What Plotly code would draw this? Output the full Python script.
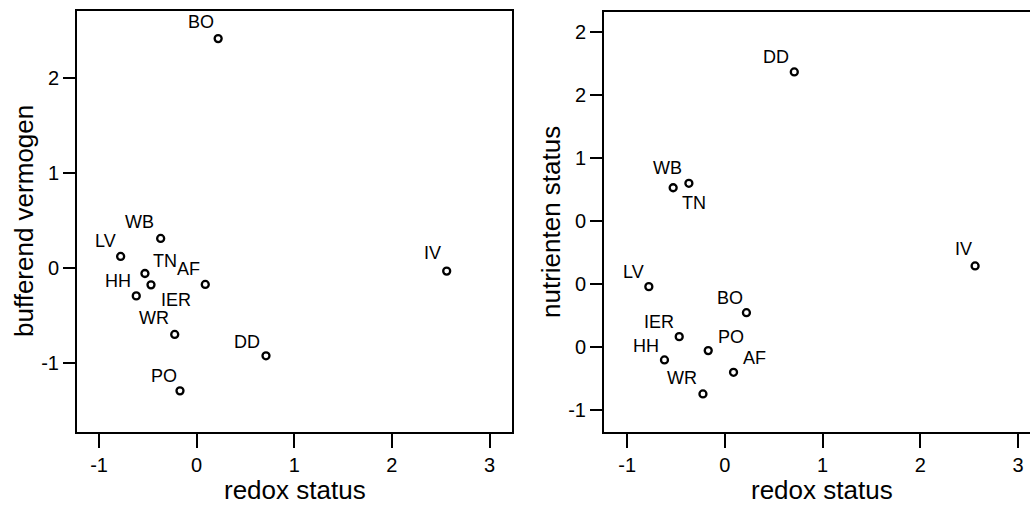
import plotly.graph_objects as go

# ---- data ----
sites = ["BO", "WB", "LV", "TN", "IER", "AF", "HH", "WR", "DD", "PO", "IV"]
redox_status = [0.22, -0.369, -0.779, -0.530, -0.468, 0.088, -0.619, -0.225, 0.710, -0.171, 2.561]
bufferend_vermogen = [2.41, 0.312, 0.123, -0.056, -0.175, -0.171, -0.291, -0.696, -0.920, -1.288, -0.031]
nutrienten_status = [-0.228, 0.799, -0.021, 0.764, -0.418, -0.701, -0.603, -0.873, 1.683, -0.529, 0.143]

x_ticks = [-1, 0, 1, 2, 3]
x_ticklabels = ["-1", "0", "1", "2", "3"]
y1_ticks = [-1, 0, 1, 2]
y1_ticklabels = ["-1", "0", "1", "2"]
y2_ticks = [-1, -0.5, 0, 0.5, 1, 1.5, 2]
y2_ticklabels = ["-1", "0", "0", "0", "1", "2", "2"]

# label offsets in pixels (dx, dy; dy positive = down), styling only
offsets_left = {"BO": (-17, -17), "WB": (-21, -16), "LV": (-15, -15), "TN": (20, -13),
                "IER": (25, 15), "AF": (-17, -15), "HH": (-18, -15), "WR": (-21, -16),
                "DD": (-19, -14), "PO": (-16, -15), "IV": (-14, -18)}
offsets_right = {"BO": (-16, -15), "WB": (-21, -15), "LV": (-15, -15), "TN": (21, 15),
                 "IER": (-20, -15), "AF": (21, -14), "HH": (-18, -14), "WR": (-21, -16),
                 "DD": (-18, -15), "PO": (23, -14), "IV": (-12, -17)}

W, H = 1030, 511
FONT = "Liberation Sans, Arial, Helvetica, sans-serif"

fig = go.Figure()
marker = dict(symbol="circle-open", size=7, color="black", line=dict(width=2.3, color="black"))
fig.add_trace(go.Scatter(x=redox_status, y=bufferend_vermogen, mode="markers",
                         marker=marker, xaxis="x", yaxis="y", showlegend=False, hoverinfo="skip"))
fig.add_trace(go.Scatter(x=redox_status, y=nutrienten_status, mode="markers",
                         marker=marker, xaxis="x2", yaxis="y2", showlegend=False, hoverinfo="skip"))

label_font = dict(size=18, color="black", family=FONT)
annotations = []
for s, xv, yv in zip(sites, redox_status, bufferend_vermogen):
    dx, dy = offsets_left[s]
    annotations.append(dict(x=xv, y=yv, xref="x", yref="y", text=s, showarrow=False,
                            xanchor="center", yanchor="middle",
                            xshift=dx, yshift=-dy, font=label_font))
for s, xv, yv in zip(sites, redox_status, nutrienten_status):
    dx, dy = offsets_right[s]
    annotations.append(dict(x=xv, y=yv, xref="x2", yref="y2", text=s, showarrow=False,
                            xanchor="center", yanchor="middle",
                            xshift=dx, yshift=-dy, font=label_font))

title_font = dict(size=26, color="black", family=FONT)
def title(xpx, ypx, text, angle=0):
    return dict(x=xpx / W, y=(H - ypx) / H, xref="paper", yref="paper", text=text,
                showarrow=False, xanchor="center", yanchor="middle", textangle=angle,
                font=title_font)

annotations += [
    title(294.5, 490, "redox status"),
    title(821.5, 490, "redox status"),
    title(23.5, 221.5, "bufferend vermogen", -90),
    title(551, 222, "nutrienten status", -90),
]

tickfont = dict(size=20, color="black", family=FONT)
common_x = dict(showgrid=False, zeroline=False, showline=True, linecolor="black", linewidth=2,
                ticks="outside", ticklen=14, tickwidth=2, tickcolor="black",
                tickvals=x_ticks, ticktext=x_ticklabels, tickfont=tickfont, mirror=True)
common_y = dict(showgrid=False, zeroline=False, showline=True, linecolor="black", linewidth=2,
                ticks="outside", ticklen=12, tickwidth=2, tickcolor="black", tickfont=tickfont)

fig.update_layout(
    width=W, height=H, margin=dict(l=0, r=0, t=0, b=0),
    plot_bgcolor="white", paper_bgcolor="white",
    xaxis=dict(domain=[77 / W, 512 / W], range=[-1.226, 3.23], anchor="y", **common_x),
    yaxis=dict(domain=[(H - 432) / H, (H - 11) / H], range=[-1.72, 2.70], anchor="x",
               tickvals=y1_ticks, ticktext=y1_ticklabels, mirror=True, **common_y),
    xaxis2=dict(domain=[604 / W, 1.0], range=[-1.238, 3.123], anchor="y2", **common_x),
    yaxis2=dict(domain=[(H - 432) / H, (H - 12) / H], range=[-1.175, 2.159], anchor="x2",
                tickvals=y2_ticks, ticktext=y2_ticklabels, mirror=False, **common_y),
    annotations=annotations,
)

fig.write_html("out.html")
